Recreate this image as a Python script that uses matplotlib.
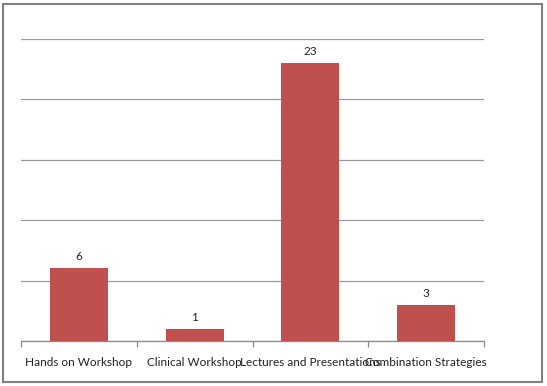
import matplotlib
matplotlib.use("Agg")
from matplotlib import pyplot as plt
from matplotlib.patches import Rectangle

categories = ["Hands on Workshop", "Clinical Workshop", "Lectures and Presentations", "Combination Strategies"]
values = [6, 1, 23, 3]

plt.rcParams['font.family'] = ['Lato', 'DejaVu Sans']

fig = plt.figure(figsize=(5.47, 3.86), dpi=100)
ax = fig.add_axes([21/547, 45/386, 463/547, 302.5/386])

x = list(range(len(categories)))
ax.bar(x, values, width=0.5, color="#C0504D", zorder=3)
for xi, v in zip(x, values):
    ax.text(xi, v + 0.5, str(v), ha="center", va="bottom", fontsize=8.5, color="#222222")

ax.set_xlim(-0.5, 3.5)
ax.set_ylim(0, 25)
ax.set_yticks([0, 5, 10, 15, 20, 25])
ax.yaxis.grid(True, color="#9a9a9a", linewidth=0.9)
ax.set_yticklabels([])
ax.tick_params(axis="y", length=0)

ax.set_xticks([-0.5, 0.5, 1.5, 2.5, 3.5])
ax.set_xticklabels([])
ax.tick_params(axis="x", length=4, color="#8a8a8a", width=0.9)
for xi, c in zip(x, categories):
    ax.text(xi, -1.3, c, ha="center", va="top", fontsize=8.5, color="#222222")

for s in ["left", "right", "top"]:
    ax.spines[s].set_visible(False)
ax.spines["bottom"].set_color("#8a8a8a")
ax.spines["bottom"].set_linewidth(0.9)

fig.patches.append(Rectangle((3/547, 4/386), 539/547, 378/386, transform=fig.transFigure,
                             fill=False, edgecolor="#808080", linewidth=1.5))

fig.savefig("out.png", dpi=100)
